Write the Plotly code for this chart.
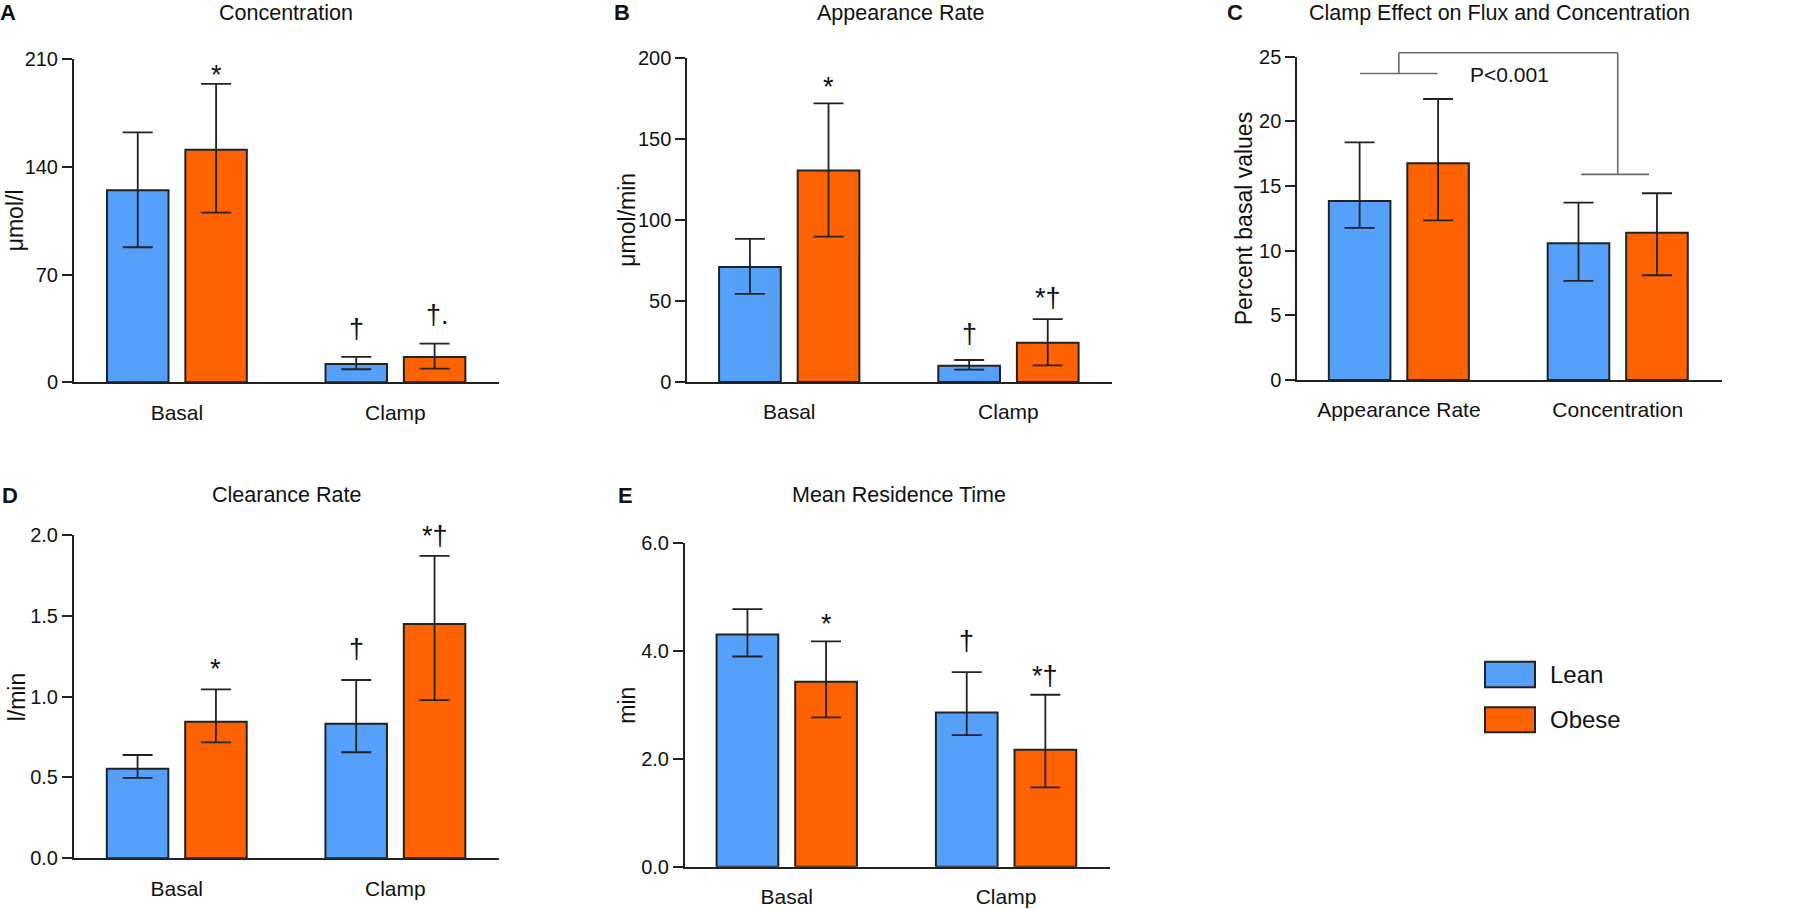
import plotly.graph_objects as go

W, H = 1800, 909
FONT = "Liberation Sans, Arial, Helvetica, sans-serif"
BLUE = "#55A0FB"
ORANGE = "#FF6200"
INK = "#222222"

# ---------------- data ----------------
cats_AB = ["Basal", "Clamp"]
cats_C = ["Appearance Rate", "Concentration"]

# A  Concentration (µmol/l)
a_lean = [124.8, 11.9]
a_lean_hi = [162.5, 16.5]
a_lean_lo = [87.8, 8.5]
a_obese = [151.2, 16.5]
a_obese_hi = [194.0, 25.1]
a_obese_lo = [110.3, 8.9]
a_lean_sig = ["", "†"]
a_obese_sig = ["*", "†."]

# B  Appearance rate (µmol/min)
b_lean = [71.1, 10.1]
b_lean_hi = [88.4, 13.6]
b_lean_lo = [54.4, 7.6]
b_obese = [130.6, 24.3]
b_obese_hi = [172.2, 38.9]
b_obese_lo = [89.8, 10.3]
b_lean_sig = ["", "†"]
b_obese_sig = ["*", "*†"]

# C  Clamp effect (percent basal values)
c_lean = [13.84, 10.57]
c_lean_hi = [18.38, 13.71]
c_lean_lo = [11.76, 7.66]
c_obese = [16.76, 11.39]
c_obese_hi = [21.73, 14.44]
c_obese_lo = [12.35, 8.10]
c_lean_sig = ["", ""]
c_obese_sig = ["", ""]

# D  Clearance rate (l/min)
d_lean = [0.554, 0.832]
d_lean_hi = [0.639, 1.103]
d_lean_lo = [0.497, 0.656]
d_obese = [0.845, 1.449]
d_obese_hi = [1.045, 1.871]
d_obese_lo = [0.717, 0.979]
d_lean_sig = ["", "†"]
d_obese_sig = ["*", "*†"]

# E  Mean residence time (min)
e_lean = [4.31, 2.86]
e_lean_hi = [4.78, 3.61]
e_lean_lo = [3.90, 2.44]
e_obese = [3.43, 2.17]
e_obese_hi = [4.18, 3.19]
e_obese_lo = [2.77, 1.47]
e_lean_sig = ["", "†"]
e_obese_sig = ["*", "*†"]

# ---------------- layout of panels (pixels) ----------------
panels = [
    dict(key="A", title="Concentration", ytitle="μmol/l", cats=cats_AB,
         lean=(a_lean, a_lean_hi, a_lean_lo, a_lean_sig),
         obese=(a_obese, a_obese_hi, a_obese_lo, a_obese_sig),
         xpx=(74, 499), ypx=(59.3, 382.3), yr=[0, 210], tv=[0, 70, 140, 210], fmt="",
         xr=[-0.471, 1.474], letter_x=8, title_x=286, title_y=12.5, ytitle_x=14.5,
         gaps=([0, 13.7], [10, 15])),
    dict(key="B", title="Appearance Rate", ytitle="μmol/min", cats=cats_AB,
         lean=(b_lean, b_lean_hi, b_lean_lo, b_lean_sig),
         obese=(b_obese, b_obese_hi, b_obese_lo, b_obese_sig),
         xpx=(687.3, 1111.7), ypx=(58.3, 382.0), yr=[0, 200], tv=[0, 50, 100, 150, 200], fmt="",
         xr=[-0.465, 1.471], letter_x=621.7, title_x=900, title_y=12.5, ytitle_x=627.5,
         gaps=([0, 12], [17, 7])),
    dict(key="C", title="Clamp Effect on Flux and Concentration", ytitle="Percent basal values",
         cats=cats_C,
         lean=(c_lean, c_lean_hi, c_lean_lo, c_lean_sig),
         obese=(c_obese, c_obese_hi, c_obese_lo, c_obese_sig),
         xpx=(1297.3, 1721.7), ypx=(56.7, 380.0), yr=[0, 25], tv=[0, 5, 10, 15, 20, 25], fmt="",
         xr=[-0.464, 1.475], letter_x=1235, title_x=1499, title_y=12.5, ytitle_x=1244,
         gaps=([0, 0], [0, 0])),
    dict(key="D", title="Clearance Rate", ytitle="l/min", cats=cats_AB,
         lean=(d_lean, d_lean_hi, d_lean_lo, d_lean_sig),
         obese=(d_obese, d_obese_hi, d_obese_lo, d_obese_sig),
         xpx=(74, 499), ypx=(535.0, 858.3), yr=[0, 2], tv=[0, 0.5, 1, 1.5, 2], fmt=".1f",
         xr=[-0.470, 1.474], letter_x=9.7, title_x=286, title_y=495, ytitle_x=16.7,
         gaps=([0, 17], [21, 5.7])),
    dict(key="E", title="Mean Residence Time", ytitle="min", cats=cats_AB,
         lean=(e_lean, e_lean_hi, e_lean_lo, e_lean_sig),
         obese=(e_obese, e_obese_hi, e_obese_lo, e_obese_sig),
         xpx=(685, 1110), ypx=(543.3, 866.7), yr=[0, 6], tv=[0, 2, 4, 6], fmt=".1f",
         xr=[-0.464, 1.474], letter_x=625, title_x=899.3, title_y=495, ytitle_x=626.7,
         gaps=([0, 17], [18, 4.7])),
]

BARGAP = 0.283
BARGROUPGAP = 0.215
SLOT = (1 - BARGAP) / 2
SIG_SIZE = 27


def fx(px):
    return px / W


def fy(py):
    return 1 - py / H


fig = go.Figure()
annotations = []
shapes = []

for n, p in enumerate(panels, start=1):
    sfx = "" if n == 1 else str(n)
    xa, ya = "x" + sfx, "y" + sfx
    idx = list(range(len(p["cats"])))
    for name, color, data, sign, gaps in [
        ("Lean", BLUE, p["lean"], -1, p["gaps"][0]),
        ("Obese", ORANGE, p["obese"], 1, p["gaps"][1]),
    ]:
        mean, hi, lo, sig = data
        fig.add_trace(go.Bar(
            x=idx, y=mean, name=name, showlegend=False,
            xaxis=xa, yaxis=ya,
            marker=dict(color=color, line=dict(color=INK, width=2)),
            error_y=dict(type="data", symmetric=False,
                         array=[h - m for h, m in zip(hi, mean)],
                         arrayminus=[m - l for m, l in zip(mean, lo)],
                         color=INK, thickness=1.8, width=15),
        ))
        for i, s in enumerate(sig):
            if not s:
                continue
            off = 3 if "†" in s else 18
            annotations.append(dict(
                x=i + sign * SLOT / 2, y=hi[i], xref=xa, yref=ya,
                text=s, showarrow=False, xanchor="center", yanchor="bottom",
                yshift=gaps[i] - off, xshift=3 if s.endswith(".") else 0,
                font=dict(size=SIG_SIZE, color="#111", family=FONT)))

    axis_x = dict(domain=[fx(p["xpx"][0]), fx(p["xpx"][1])], range=p["xr"],
                  anchor=ya, showline=True, linecolor=INK, linewidth=2,
                  tickmode="array", tickvals=idx, ticktext=p["cats"],
                  ticks="outside", ticklen=10, tickcolor="rgba(0,0,0,0)",
                  showgrid=False, zeroline=False, automargin=False,
                  tickfont=dict(size=21, color="#111", family=FONT))
    axis_y = dict(domain=[fy(p["ypx"][1]), fy(p["ypx"][0])], range=p["yr"],
                  anchor=xa, showline=True, linecolor=INK, linewidth=2,
                  tickmode="array", tickvals=p["tv"], tickformat=p["fmt"],
                  ticks="outside", ticklen=10, tickwidth=2, tickcolor=INK,
                  showgrid=False, zeroline=False, automargin=False,
                  tickfont=dict(size=20, color="#111", family=FONT))
    fig.update_layout(**{"xaxis" + sfx: axis_x, "yaxis" + sfx: axis_y})

    # titles, letters, y-axis titles
    annotations.append(dict(x=fx(p["title_x"]), y=fy(p["title_y"]), xref="paper", yref="paper",
                            text=p["title"], showarrow=False, xanchor="center", yanchor="middle",
                            font=dict(size=21.5, color="#111", family=FONT)))
    annotations.append(dict(x=fx(p["letter_x"]), y=fy(p["title_y"]), xref="paper", yref="paper",
                            text="<b>%s</b>" % p["key"], showarrow=False, xanchor="center",
                            yanchor="middle", font=dict(size=22, color="#111", family=FONT)))
    annotations.append(dict(x=fx(p["ytitle_x"]), y=fy((p["ypx"][0] + p["ypx"][1]) / 2),
                            xref="paper", yref="paper", text=p["ytitle"], textangle=-90,
                            showarrow=False, xanchor="center", yanchor="middle",
                            font=dict(size=23, color="#111", family=FONT)))

# ---------------- bracket on panel C ----------------
pc = panels[2]
c_y0, c_y1 = fy(pc["ypx"][1]), fy(pc["ypx"][0])


def cy(v):
    return c_y0 + (v - pc["yr"][0]) / (pc["yr"][1] - pc["yr"][0]) * (c_y1 - c_y0)


bracket_top = 25.31
bracket_left = 23.7
bracket_right = 15.9
BR = dict(color="#6a6a6a", width=1.6)
for x0, y0, x1, y1 in [
    (0, bracket_top, 1, bracket_top),
    (0, bracket_top, 0, bracket_left),
    (1, bracket_top, 1, bracket_right),
    (-0.178, bracket_left, 0.177, bracket_left),
    (1 - 0.168, bracket_right, 1 + 0.143, bracket_right),
]:
    shapes.append(dict(type="line", xref="x3", yref="paper", x0=x0, x1=x1,
                       y0=cy(y0), y1=cy(y1), line=BR))
annotations.append(dict(x=fx(1509), y=cy(23.6), xref="paper", yref="paper", text="P&lt;0.001",
                        showarrow=False, xanchor="center", yanchor="middle",
                        font=dict(size=21, color="#111", family=FONT)))

# ---------------- legend ----------------
legend_items = [("Lean", BLUE, 661.7, 687.3), ("Obese", ORANGE, 707.3, 732.3)]
for name, color, t, b in legend_items:
    shapes.append(dict(type="rect", xref="paper", yref="paper",
                       x0=fx(1485), x1=fx(1535), y0=fy(b), y1=fy(t),
                       fillcolor=color, line=dict(color=INK, width=2)))
    annotations.append(dict(x=fx(1548), y=fy((t + b) / 2), xref="paper", yref="paper",
                            text=name, showarrow=False, xanchor="left", yanchor="middle",
                            font=dict(size=24, color="#111", family=FONT)))

fig.update_layout(
    width=W, height=H, margin=dict(l=0, r=0, t=0, b=0, pad=0, autoexpand=False),
    paper_bgcolor="white", plot_bgcolor="white",
    barmode="group", bargap=BARGAP, bargroupgap=BARGROUPGAP,
    font=dict(family=FONT, color="#111"),
    annotations=annotations, shapes=shapes, showlegend=False,
)

fig.write_html("out.html", config={"displayModeBar": False},
               post_script="document.body.style.margin='0';document.body.style.overflow='hidden';")
